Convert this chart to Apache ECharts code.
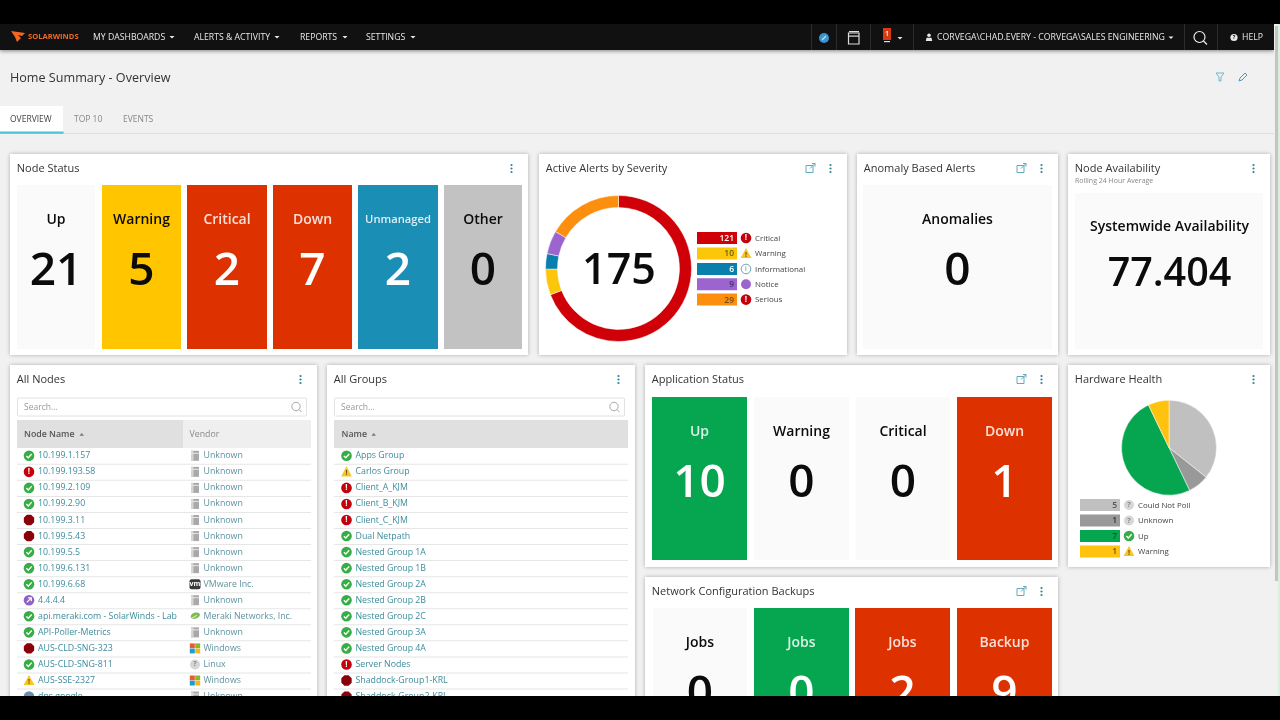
<!DOCTYPE html>
<html>
<head>
<meta charset="utf-8">
<title>Home Summary - Overview</title>
<script src="https://cdn.jsdelivr.net/npm/echarts@6/dist/echarts.min.js"></script>
<style>
  html, body { margin: 0; padding: 0; background: #000; }
  #main { width: 1280px; height: 720px; }
</style>
</head>
<body>
<div id="main"></div>
<script>
// data
const navItems = ['MY DASHBOARDS', 'ALERTS & ACTIVITY', 'REPORTS', 'SETTINGS'];
const userLabel = 'CORVEGA\\CHAD.EVERY - CORVEGA\\SALES ENGINEERING';
const tabNames = ['OVERVIEW', 'TOP 10', 'EVENTS'];

const nodeStatusLabels = ['Up', 'Warning', 'Critical', 'Down', 'Unmanaged', 'Other'];
const nodeStatusValues = [21, 5, 2, 7, 2, 0];

const severityNames = ['Critical', 'Warning', 'Informational', 'Notice', 'Serious'];
const severityValues = [121, 10, 6, 9, 29];
const severityTotal = 175;

const anomalyLabel = 'Anomalies';
const anomalyValue = 0;
const availabilityLabel = 'Systemwide Availability';
const availabilityValue = '77.404';

const appStatusLabels = ['Up', 'Warning', 'Critical', 'Down'];
const appStatusValues = [10, 0, 0, 1];

const backupLabels = ['Jobs', 'Jobs', 'Jobs', 'Backup'];
const backupValues = [0, 0, 2, 9];

const hardwareNames = ['Could Not Poll', 'Unknown', 'Up', 'Warning'];
const hardwareValues = [5, 1, 7, 1];

const nodeNames = ['10.199.1.157', '10.199.193.58', '10.199.2.109', '10.199.2.90', '10.199.3.11', '10.199.5.43',
  '10.199.5.5', '10.199.6.131', '10.199.6.68', '4.4.4.4', 'api.meraki.com - SolarWinds - Lab', 'API-Poller-Metrics',
  'AUS-CLD-SNG-323', 'AUS-CLD-SNG-811', 'AUS-SSE-2327', 'dns.google'];
const nodeStates = ['up', 'critical', 'up', 'up', 'down', 'down', 'up', 'up', 'up', 'unreachable', 'up', 'up',
  'down', 'up', 'warning', 'external'];
const nodeVendors = ['Unknown', 'Unknown', 'Unknown', 'Unknown', 'Unknown', 'Unknown', 'Unknown', 'Unknown',
  'VMware Inc.', 'Unknown', 'Meraki Networks, Inc.', 'Unknown', 'Windows', 'Linux', 'Windows', 'Unknown'];

const groupNames = ['Apps Group', 'Carlos Group', 'Client_A_KJM', 'Client_B_KJM', 'Client_C_KJM', 'Dual Netpath',
  'Nested Group 1A', 'Nested Group 1B', 'Nested Group 2A', 'Nested Group 2B', 'Nested Group 2C', 'Nested Group 3A',
  'Nested Group 4A', 'Server Nodes', 'Shaddock-Group1-KRL', 'Shaddock-Group2-KRL'];
const groupStates = ['up', 'warning', 'critical', 'critical', 'critical', 'up', 'up', 'up', 'up', 'up', 'up', 'up',
  'up', 'critical', 'down', 'down'];

// colours
const GREEN = '#06a651', RED = '#dd3100', YELLOW = '#ffc600', BLUE = '#1b8eb6', GREY = '#c2c2c2', BLANK = '#fafafa';
const TEAL = '#3d8c9c';
const severityColors = ['#cf0008', '#fcc60b', '#0a7fae', '#9b64cf', '#fc8f0e'];
const hardwareColors = ['#c0c0c0', '#999999', '#06a651', '#ffc20e'];
const FONT = '"Open Sans", sans-serif';

const els = [];

function rect(x, y, w, h, fill, extra) {
  els.push({ type: 'rect', shape: { x, y, width: w, height: h, r: (extra && extra.r) || 0 }, style: Object.assign({ fill }, extra && extra.style), silent: true });
}
function label(text, x, y, size, fill, opts) {
  opts = opts || {};
  const align = opts.align || 'left';
  els.push({
    type: 'text', silent: true,
    style: {
      text, x, y, fill,
      font: (opts.weight || 400) + ' ' + size + 'px ' + FONT,
      align, verticalAlign: 'middle', textAlign: align, textVerticalAlign: 'middle'
    }
  });
}
function circle(cx, cy, r, fill, stroke) {
  els.push({ type: 'circle', shape: { cx, cy, r }, style: { fill, stroke: stroke || null, lineWidth: stroke ? 1 : 0 }, silent: true });
}
function poly(points, fill) {
  els.push({ type: 'polygon', shape: { points }, style: { fill }, silent: true });
}
function line(points, stroke, lineWidth) {
  els.push({ type: 'polyline', shape: { points }, style: { stroke, lineWidth: lineWidth || 1, fill: null }, silent: true });
}

// status icons
function statusIcon(state, x, y) {
  if (state === 'up') {
    circle(x, y, 5.3, '#37ad46');
    line([[x - 2.6, y + 0.1], [x - 0.7, y + 2], [x + 2.7, y - 1.8]], '#fff', 1.4);
  } else if (state === 'critical') {
    circle(x, y, 5.3, '#c4000c');
    label('!', x, y, 8, '#fff', { align: 'center', weight: 700 });
  } else if (state === 'down') {
    const pts = [];
    for (let i = 0; i < 8; i++) {
      const a = Math.PI / 8 + i * Math.PI / 4;
      pts.push([x + 5.6 * Math.cos(a), y + 5.6 * Math.sin(a)]);
    }
    poly(pts, '#8a0008');
  } else if (state === 'warning') {
    poly([[x, y - 5.5], [x + 5.4, y + 4.6], [x - 5.4, y + 4.6]], '#f6c526');
    label('!', x, y + 1, 7, '#6b5200', { align: 'center', weight: 700 });
  } else if (state === 'unreachable') {
    circle(x, y, 5.3, '#8e62c4');
    line([[x - 2.2, y + 2.2], [x + 2.2, y - 2.2]], '#fff', 1.2);
    line([[x - 1, y - 2.3], [x + 2.3, y - 2.3], [x + 2.3, y + 1]], '#fff', 1.2);
  } else if (state === 'external') {
    circle(x, y, 5.3, '#6d8fae');
  } else if (state === 'unknown') {
    circle(x, y, 5, '#d6d6d6');
    label('?', x, y, 7, '#888', { align: 'center', weight: 700 });
  } else if (state === 'info') {
    circle(x, y, 4.8, '#fff', '#6fa4b4');
    label('i', x, y, 7, '#4b8a9c', { align: 'center' });
  } else if (state === 'notice') {
    circle(x, y, 5, '#9b64cf');
  }
}

function vendorIcon(vendor, x, y) {
  if (vendor === 'VMware Inc.') {
    rect(x - 5.5, y - 5, 11, 10, '#3a3a3a', { r: 2 });
    label('vm', x, y, 7, '#fff', { align: 'center', weight: 700 });
  } else if (vendor === 'Meraki Networks, Inc.') {
    els.push({ type: 'ellipse', shape: { cx: x + 0.5, cy: y - 0.5, rx: 4.8, ry: 3 }, rotation: 0.35, originX: x, originY: y, style: { fill: '#7fbb52' }, silent: true });
    line([[x - 5, y + 3], [x + 2, y - 1]], '#fff', 0.8);
  } else if (vendor === 'Windows') {
    rect(x - 5.2, y - 5, 5, 4.8, '#ea5b2c');
    rect(x + 0.2, y - 5, 5, 4.8, '#86b72d');
    rect(x - 5.2, y + 0.2, 5, 4.8, '#1f9ad8');
    rect(x + 0.2, y + 0.2, 5, 4.8, '#f7b817');
  } else if (vendor === 'Linux') {
    statusIcon('unknown', x, y);
  } else {
    rect(x - 4, y - 5, 8, 10, '#a9a9a9');
    rect(x - 4, y - 5, 2.5, 10, '#d5d5d5');
    rect(x - 4, y - 3, 8, 1, '#e6e6e6');
  }
}

// panel frame with title, kebab menu and optional pop-out icon
function panel(x, y, w, h, title, popout) {
  rect(x, y, w, h, '#fff', { style: { shadowBlur: 4, shadowColor: 'rgba(0,0,0,0.28)', shadowOffsetY: 0 } });
  label(title, x + 6.8, y + 14.5, 11, '#333');
  const menuX = x + w - 16.5;
  circle(menuX, y + 11, 1.1, '#2f8296');
  circle(menuX, y + 14.5, 1.1, '#2f8296');
  circle(menuX, y + 18, 1.1, '#2f8296');
  if (popout) {
    const px = menuX - 24.5, py = y + 14.5;
    els.push({ type: 'rect', shape: { x: px, y: py - 3, width: 7, height: 7 }, style: { fill: null, stroke: '#62a9bd', lineWidth: 1 }, silent: true });
    line([[px + 4, py], [px + 9, py - 5]], '#62a9bd', 1);
    line([[px + 6, py - 5], [px + 9, py - 5], [px + 9, py - 2]], '#62a9bd', 1);
  }
}

function tile(x, y, w, h, fill, text, value, dark) {
  rect(x, y, w, h, fill);
  const color = dark ? '#0b0b0b' : 'rgba(255,255,255,0.85)';
  const cx = x + w / 2;
  const small = text === 'Unmanaged';
  label(text, cx, y + 35, small ? 11.2 : 14, color, { align: 'center', weight: 600 });
  label(String(value), cx, y + 86.5, 46, dark ? '#0b0b0b' : '#fff', { align: 'center', weight: 600 });
}

function chips(names, values, colors, states, x, ys, textColors) {
  names.forEach((name, i) => {
    rect(x, ys[i] - 6, 40, 12, colors[i]);
    label(String(values[i]), x + 37, ys[i] + 0.5, 8.5, textColors[i], { align: 'right', weight: 600 });
    statusIcon(states[i], x + 49, ys[i]);
    label(name, x + 58, ys[i] + 0.3, 7.9, '#444');
  });
}

function searchBox(x, y, w) {
  els.push({ type: 'rect', shape: { x: x + 0.5, y: y + 0.5, width: w, height: 18, r: 1 }, style: { fill: '#fff', stroke: '#e2e2e2', lineWidth: 1 }, silent: true });
  label('Search...', x + 7, y + 10, 8.5, '#999');
  els.push({ type: 'circle', shape: { cx: x + w - 10, cy: y + 9, r: 4.2 }, style: { fill: null, stroke: '#a8a8a8', lineWidth: 1 }, silent: true });
  line([[x + w - 7, y + 12], [x + w - 4.5, y + 14.5]], '#a8a8a8', 1);
}

function rowY(i) { return 455.8 + i * 16.05; }

// ---- page
rect(0, 50, 1280, 650, '#f1f1f1');

// top bar
rect(0, 24, 1274, 26, '#111', { style: { shadowBlur: 4, shadowColor: 'rgba(0,0,0,0.45)', shadowOffsetY: 1 } });
poly([[11, 31], [25, 33], [22, 36], [18, 35], [21, 38], [17, 42], [15, 37]], '#f2661f');
label('SOLARWINDS', 28, 36.5, 7.6, '#ef6a24', { weight: 700 });
const navX = [93, 194, 300, 366];
const navCaretX = [172, 277, 345, 413];
navItems.forEach((t, i) => {
  label(t, navX[i], 38, 8.7, '#e8e8e8', { weight: 500 });
  poly([[navCaretX[i] - 2.5, 36], [navCaretX[i] + 2.5, 36], [navCaretX[i], 38.5]], '#e8e8e8');
});
[811, 836, 870, 913, 1184, 1217].forEach(x => rect(x, 24, 1, 26, '#2c2c2c'));
circle(824, 38, 5, '#3a94d0');
line([[822, 40], [826, 36]], '#bfe0f5', 1.2);
els.push({ type: 'rect', shape: { x: 848.5, y: 33, width: 10.5, height: 11 }, style: { fill: null, stroke: '#ddd', lineWidth: 1.2 }, silent: true });
rect(849, 31, 10, 1.2, '#ddd');
rect(849, 35.5, 10, 1.2, '#ddd');
rect(883, 28, 8, 12, '#d83a14');
label('1', 887, 33.5, 7, '#fff', { align: 'center', weight: 600 });
rect(884, 41, 6, 1.2, '#ddd');
poly([[897.5, 37], [902.5, 37], [900, 39.5]], '#e8e8e8');
circle(929, 35.2, 1.8, '#e8e8e8');
poly([[925.8, 41], [926.5, 37.8], [931.5, 37.8], [932.2, 41]], '#e8e8e8');
label(userLabel, 937, 38, 8.72, '#e8e8e8', { weight: 500 });
poly([[1168.5, 36.5], [1173.5, 36.5], [1171, 39]], '#e8e8e8');
els.push({ type: 'circle', shape: { cx: 1199.5, cy: 37, r: 5.5 }, style: { fill: null, stroke: '#eee', lineWidth: 1.2 }, silent: true });
line([[1203.5, 41], [1207, 44.5]], '#eee', 1.2);
circle(1234, 37.5, 3.6, '#e8e8e8');
label('?', 1234, 37.5, 5.5, '#111', { align: 'center', weight: 700 });
label('HELP', 1242, 38, 8.7, '#e8e8e8', { weight: 500 });

// page heading and tabs
label('Home Summary - Overview', 10, 78.3, 12.6, '#333', { weight: 500 });
line([[1216, 73], [1224, 73], [1221, 77], [1221, 81], [1219, 81], [1219, 77], [1216, 73]], '#6fb8cc', 1);
line([[1239, 81], [1240, 78], [1245, 73], [1247, 75], [1242, 80], [1239, 81]], '#4d9db3', 1);
rect(0, 133, 1274, 1, '#dedede');
rect(0, 106, 63, 26, '#fff');
rect(0, 131.5, 63.5, 2.2, '#4cc3d3');
label(tabNames[0], 10, 119.2, 8.5, '#444');
label(tabNames[1], 74, 119.2, 8.5, '#888');
label(tabNames[2], 123, 119.2, 8.5, '#888');

// scrollbar strip on the right, the video edge shows pale green beside it
rect(1274, 24, 4, 672, '#f0f0f0');
rect(1275, 26, 3, 555, '#c4c4c4');
rect(1278, 24, 2, 672, '#d9f0da');

// Node Status
panel(10, 154, 518, 201, 'Node Status');
const nodeTileX = [17, 102, 187, 273, 358, 444];
const nodeTileW = [78, 79, 80, 79, 80, 78];
const nodeTileFill = [BLANK, YELLOW, RED, RED, BLUE, GREY];
const nodeTileDark = [true, true, false, false, false, true];
nodeStatusLabels.forEach((t, i) => tile(nodeTileX[i], 185, nodeTileW[i], 164, nodeTileFill[i], t, nodeStatusValues[i], nodeTileDark[i]));

// Active Alerts by Severity (the ring itself is a pie series)
panel(539, 154, 308, 201, 'Active Alerts by Severity', true);
label(String(severityTotal), 619, 272, 43, '#0b0b0b', { align: 'center', weight: 600 });
chips(severityNames, severityValues, severityColors, ['critical', 'warning', 'info', 'notice', 'critical'],
  697, [238, 253.5, 269, 284.2, 299.6], ['#fff', '#6b5a10', '#fff', '#4a2f70', '#7a4a10']);

// Anomaly Based Alerts
panel(857, 154, 201, 201, 'Anomaly Based Alerts', true);
tile(863, 185, 189, 164, BLANK, anomalyLabel, anomalyValue, true);

// Node Availability
panel(1068, 154, 202, 201, 'Node Availability');
label('Rolling 24 Hour Average', 1075, 180.5, 7, '#888');
rect(1075, 193, 188, 156, BLANK);
label(availabilityLabel, 1169.5, 226.7, 14, '#0b0b0b', { align: 'center', weight: 600 });
label(availabilityValue, 1169.5, 275, 39.5, '#0b0b0b', { align: 'center', weight: 600 });

// All Nodes
panel(10, 365, 307, 340, 'All Nodes');
searchBox(17, 397.5, 289);
rect(17, 420, 294, 28, '#efefef');
rect(17, 420, 166, 28, '#e0e0e0');
label('Node Name', 24, 434, 8.8, '#555', { weight: 600 });
poly([[79.5, 435.8], [84, 435.8], [81.7, 433]], '#777');
label('Vendor', 189.5, 434, 8.8, '#8a8a8a', { weight: 500 });
nodeNames.forEach((name, i) => {
  const y = rowY(i);
  rect(17, y + 8, 294, 1, '#e6e6e6');
  statusIcon(nodeStates[i], 29, y);
  label(name, 38, y, 8.8, TEAL);
  vendorIcon(nodeVendors[i], 195, y);
  label(nodeVendors[i], 203.5, y, 8.8, '#5f929f');
});

// All Groups
panel(327, 365, 308, 340, 'All Groups');
searchBox(334, 397.5, 290);
rect(334, 420, 294, 28, '#e0e0e0');
label('Name', 341.5, 434, 8.8, '#555', { weight: 600 });
poly([[371.5, 435.8], [376, 435.8], [373.7, 433]], '#777');
groupNames.forEach((name, i) => {
  const y = rowY(i);
  rect(334, y + 8, 294, 1, '#e6e6e6');
  statusIcon(groupStates[i], 346.5, y);
  label(name, 355.5, y, 8.8, TEAL);
});

// Application Status
panel(645, 365, 413, 202, 'Application Status', true);
const appTileX = [652, 754, 856, 957];
const appTileW = [95, 95, 94, 95];
const appTileFill = [GREEN, BLANK, BLANK, RED];
const appTileDark = [false, true, true, false];
appStatusLabels.forEach((t, i) => tile(appTileX[i], 397, appTileW[i], 163, appTileFill[i], t, appStatusValues[i], appTileDark[i]));

// Hardware Health (pie series on top)
panel(1068, 365, 202, 202, 'Hardware Health');
chips(hardwareNames, hardwareValues, hardwareColors, ['unknown', 'unknown', 'up', 'warning'],
  1080, [505, 520.5, 536, 551.5], ['#555', '#333', '#0a5a2a', '#6b5200']);

// Network Configuration Backups (cut off by the bottom bar)
panel(645, 577, 413, 130, 'Network Configuration Backups', true);
const backupTileX = [653, 754, 855, 957];
const backupTileW = [94, 95, 95, 95];
const backupTileFill = [BLANK, GREEN, RED, RED];
const backupTileDark = [true, false, false, false];
backupLabels.forEach((t, i) => tile(backupTileX[i], 608, backupTileW[i], 100, backupTileFill[i], t, backupValues[i], backupTileDark[i]));

// letterbox bars
rect(0, 0, 1280, 24, '#000');
rect(0, 696, 1280, 24, '#000');

const chart = echarts.init(document.getElementById('main'), null, { renderer: 'canvas' });
chart.setOption({
  animation: false,
  backgroundColor: '#000',
  graphic: { elements: els },
  series: [
    {
      name: 'Active Alerts by Severity',
      type: 'pie',
      center: [618.5, 268.5],
      radius: [61, 73],
      startAngle: 90,
      silent: true,
      label: { show: false },
      labelLine: { show: false },
      itemStyle: { borderColor: '#fff', borderWidth: 0.5 },
      data: severityNames.map((name, i) => ({ name, value: severityValues[i], itemStyle: { color: severityColors[i] } }))
    },
    {
      name: 'Hardware Health',
      type: 'pie',
      center: [1169, 447.7],
      radius: [0, 47.5],
      startAngle: 90,
      silent: true,
      label: { show: false },
      labelLine: { show: false },
      itemStyle: { borderColor: '#fff', borderWidth: 0.5 },
      data: hardwareNames.map((name, i) => ({ name, value: hardwareValues[i], itemStyle: { color: hardwareColors[i] } }))
    }
  ]
});

window.addEventListener('resize', () => chart.resize());
</script>
</body>
</html>
